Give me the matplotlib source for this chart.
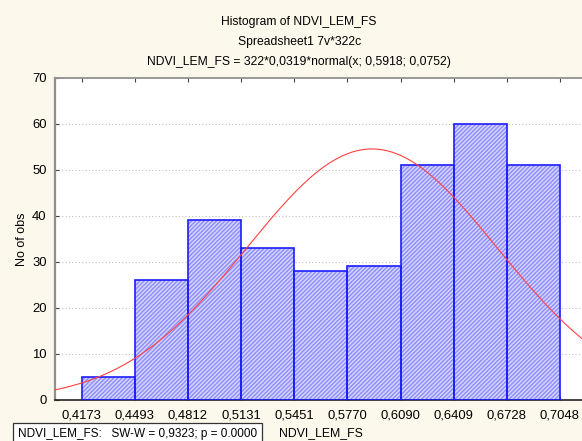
import numpy as np
import matplotlib.pyplot as plt

plt.rcParams['font.family'] = ['Liberation Sans', 'DejaVu Sans']
plt.rcParams['hatch.linewidth'] = 1.0

# histogram bins (edges) and counts
edges = [0.4173, 0.4493, 0.4812, 0.5131, 0.5451, 0.5770, 0.6090, 0.6409, 0.6728, 0.7048]
counts = [5, 26, 39, 33, 28, 29, 51, 60, 51]
n_obs = 322
bin_w = 0.0319
mu, sigma = 0.5918, 0.0752

bg = '#fdf8ec'
fig = plt.figure(figsize=(5.82, 4.41), dpi=100, facecolor=bg)
ax = fig.add_axes([55 / 582, 41 / 441, 531.6 / 582, 322.5 / 441])
ax.set_facecolor('white')

lefts = np.array(edges[:-1])
widths = np.diff(edges)
ax.bar(lefts, counts, width=widths, align='edge', color='#d4d4ff',
       edgecolor='#8c8cff', hatch='////////', linewidth=0, zorder=2)
ax.bar(lefts, counts, width=widths, align='edge', fill=False,
       edgecolor='#1c1cff', linewidth=1.2, zorder=3)

# fitted normal curve scaled to counts
x = np.linspace(0.38, 0.74, 400)
y = n_obs * bin_w * np.exp(-0.5 * ((x - mu) / sigma) ** 2) / (sigma * np.sqrt(2 * np.pi))
ax.plot(x, y, color='#ff4040', linewidth=0.8, zorder=4)

lo = edges[0] - (edges[1] - edges[0]) / 2
hi = edges[-1] + (edges[1] - edges[0]) / 2
ax.set_xlim(lo, hi)
ax.set_ylim(0, 70)
ax.set_yticks(range(0, 71, 10))
ax.set_xticks(edges)
ax.set_xticklabels([f'{e:.4f}'.replace('.', ',') for e in edges])
ax.tick_params(axis='both', labelsize=9.4, direction='in', length=3,
               color='#444444', top=True, right=False)
ax.tick_params(axis='x', pad=7)
ax.tick_params(axis='y', pad=6)
for yv in range(10, 70, 10):
    ax.axhline(yv, color='#c0c0c0', linestyle=(0, (1, 2)), linewidth=0.8, zorder=1)

ax.spines['left'].set_color('#909090')
ax.spines['left'].set_linewidth(1.6)
ax.spines['top'].set_color('#909090')
ax.spines['top'].set_linewidth(1.3)
ax.spines['bottom'].set_color('#222222')
ax.spines['bottom'].set_linewidth(1.2)
ax.spines['right'].set_visible(False)

ax.set_ylabel('No of obs', fontsize=9)
ax.yaxis.set_label_coords(-27 / 531.6, 0.5)

fig.text(0.514, 1 - 22 / 441, 'Histogram of NDVI_LEM_FS', ha='center', va='center', fontsize=8.7)
fig.text(0.514, 1 - 42 / 441, 'Spreadsheet1 7v*322c', ha='center', va='center', fontsize=8.7)
fig.text(0.514, 1 - 62 / 441, 'NDVI_LEM_FS = 322*0,0319*normal(x; 0,5918; 0,0752)',
         ha='center', va='center', fontsize=8.7)

fig.text(18 / 582, 1 - 434 / 441, 'NDVI_LEM_FS:   SW-W = 0,9323; p = 0.0000',
         ha='left', va='center', fontsize=8.5,
         bbox=dict(boxstyle='square,pad=0.4', facecolor='white', edgecolor='#333333', linewidth=0.9))
fig.text(279 / 582, 1 - 433 / 441, 'NDVI_LEM_FS', ha='left', va='center', fontsize=8.8)

fig.savefig('out.png', dpi=100, facecolor=bg)
